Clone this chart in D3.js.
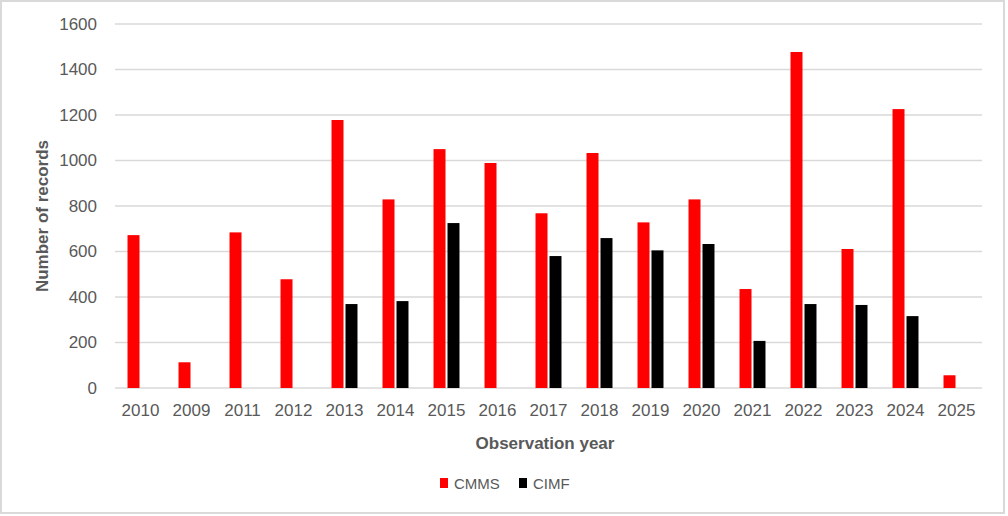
<!DOCTYPE html>
<html>
<head>
<meta charset="utf-8">
<script src="https://cdn.jsdelivr.net/npm/d3@7"></script>
<style>
  html, body { margin: 0; padding: 0; background: #fff; }
  svg { display: block; font-family: "Liberation Sans", Arial, sans-serif; }
</style>
</head>
<body>
<svg id="chart" width="1008" height="516"></svg>
<script>
const years = ["2010","2009","2011","2012","2013","2014","2015","2016","2017","2018","2019","2020","2021","2022","2023","2024","2025"];
const cmms  = [672, 113, 684, 478, 1178, 829, 1050, 989, 768, 1033, 728, 829, 435, 1477, 611, 1226, 56];
const cimf  = [0, 0, 0, 0, 369, 382, 725, 0, 580, 659, 605, 633, 207, 369, 365, 316, 0];
const yTicks = [0, 200, 400, 600, 800, 1000, 1200, 1400, 1600];
const seriesNames = ["CMMS", "CIMF"];
const seriesColors = ["#ff0000", "#000000"];

const svg = d3.select("#chart");
const W = 1008, H = 516;

// frame
svg.append("rect").attr("x", 1).attr("y", 1).attr("width", 1003).attr("height", 512)
  .attr("fill", "#fff").attr("stroke", "#d9d9d9").attr("stroke-width", 2);

const plot = { left: 115, right: 982, top: 24, bottom: 388 };

const x = d3.scaleBand().domain(years).range([plot.left, plot.right]).paddingInner(0).paddingOuter(0);
const y = d3.scaleLinear().domain([0, 1600]).range([plot.bottom, plot.top]);

const textColor = "#595959";

// gridlines
svg.append("g").selectAll("line").data(yTicks).join("line")
  .attr("x1", plot.left).attr("x2", plot.right)
  .attr("y1", d => y(d)).attr("y2", d => y(d))
  .attr("stroke", "#d9d9d9").attr("stroke-width", 1.5);

// y axis labels
const yAxis = d3.axisLeft(y).tickValues(yTicks).tickSize(0).tickPadding(0).tickFormat(d3.format("d"));
const gy = svg.append("g").attr("transform", `translate(${97},0)`).call(yAxis);
gy.select(".domain").remove();
gy.selectAll("text").attr("font-size", 17).attr("fill", textColor).attr("font-family", "Liberation Sans, Arial, sans-serif");

// x axis labels
const xAxis = d3.axisBottom(x).tickSize(0).tickPadding(0);
const gx = svg.append("g").attr("transform", `translate(0,${plot.bottom + 16})`).call(xAxis);
gx.select(".domain").remove();
gx.selectAll("text").attr("font-size", 17).attr("fill", textColor).attr("font-family", "Liberation Sans, Arial, sans-serif");

// bars
const bw = x.bandwidth() * 0.235;
const gap = 2;
const series = [cmms, cimf];
series.forEach((vals, si) => {
  svg.append("g").selectAll("rect").data(years.map((yr, i) => ({ yr, v: vals[i] })).filter(d => d.v > 0))
    .join("rect")
    .attr("x", d => {
      const c = x(d.yr) + x.bandwidth() / 2;
      return si === 0 ? c - gap / 2 - bw : c + gap / 2;
    })
    .attr("y", d => y(d.v))
    .attr("width", bw)
    .attr("height", d => y(0) - y(d.v))
    .attr("fill", seriesColors[si]);
});

// axis titles
svg.append("text")
  .attr("transform", `translate(48,${(plot.top + plot.bottom) / 2 + 10}) rotate(-90)`)
  .attr("text-anchor", "middle")
  .attr("font-size", 17).attr("font-weight", "bold").attr("fill", textColor)
  .text("Number of records");

svg.append("text")
  .attr("x", 545).attr("y", 449)
  .attr("text-anchor", "middle")
  .attr("font-size", 17).attr("font-weight", "bold").attr("fill", textColor)
  .text("Observation year");

// legend
const legendItems = [
  { name: seriesNames[0], color: seriesColors[0], x: 440 },
  { name: seriesNames[1], color: seriesColors[1], x: 519 }
];
const lg = svg.append("g");
legendItems.forEach(it => {
  lg.append("rect").attr("x", it.x).attr("y", 478).attr("width", 8).attr("height", 10).attr("fill", it.color);
  lg.append("text").attr("x", it.x + 14).attr("y", 489)
    .attr("font-size", 15).attr("fill", textColor).text(it.name);
});
</script>
</body>
</html>
